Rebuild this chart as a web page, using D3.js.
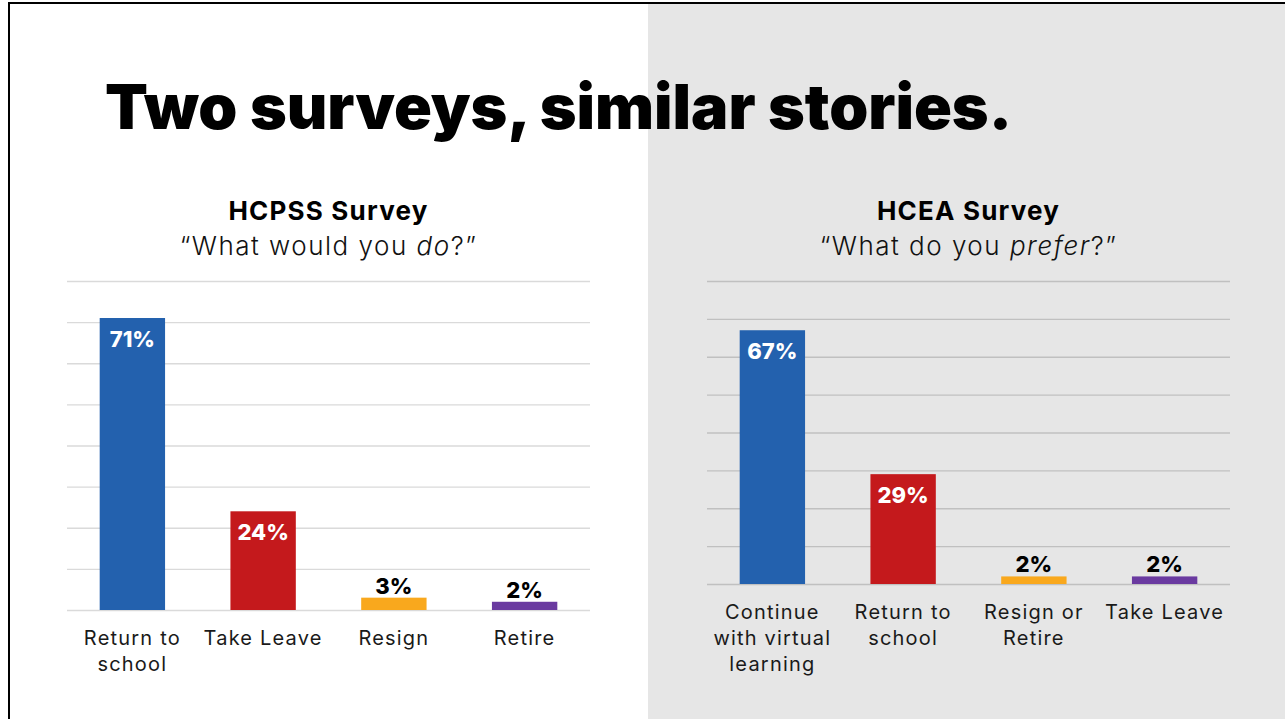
<!DOCTYPE html>
<html>
<head>
<meta charset="utf-8">
<script src="https://cdn.jsdelivr.net/npm/d3@7"></script>
<style>
  html, body { margin: 0; padding: 0; background: #fff; }
  svg { display: block; font-family: Inter, "Open Sans", sans-serif; }
</style>
</head>
<body>
<svg id="slide" width="1285" height="719"></svg>
<script>
// survey data
var hcpssCategories = ['Return to\nschool', 'Take Leave', 'Resign', 'Retire'];
var hcpssValues = [71, 24, 3, 2];
var hceaCategories = ['Continue\nwith virtual\nlearning', 'Return to\nschool', 'Resign or\nRetire', 'Take Leave'];
var hceaValues = [67, 29, 2, 2];
var barColors = ['#2361ae', '#c4191c', '#f9a81d', '#6a3aa0'];
var gridTicks = [0, 10, 20, 30, 40, 50, 60, 70, 80];

var svg = d3.select('#slide');

// right half background + slide frame
svg.append('rect')
  .attr('x', 648).attr('y', 4)
  .attr('width', 637).attr('height', 715)
  .attr('fill', '#e6e6e6');

svg.append('path')
  .attr('d', 'M9,719 V3 H1285')
  .attr('fill', 'none')
  .attr('stroke', '#000')
  .attr('stroke-width', 2);

var title = svg.append('text')
  .attr('x', 105)
  .attr('y', 129)
  .style('font-size', '62px')
  .style('font-weight', 900)
  .attr('fill', '#000')
  .text('Two surveys, similar stories.');
title.attr('textLength', 907).attr('lengthAdjust', 'spacingAndGlyphs');

function drawSurvey(opts) {
  var g = svg.append('g');
  var x = d3.scaleBand()
    .domain(opts.categories)
    .range([opts.left, opts.right])
    .paddingInner(0.5)
    .paddingOuter(0.25);
  var y = d3.scaleLinear()
    .domain([0, 80])
    .range([opts.bottom, 281]);

  var cx = (opts.left + opts.right) / 2;

  g.append('text')
    .attr('x', cx).attr('y', 220)
    .attr('text-anchor', 'middle')
    .style('font-size', '26px')
    .style('font-weight', 700)
    .style('letter-spacing', '1.2px')
    .attr('fill', '#000')
    .text(opts.name);

  var q = g.append('text')
    .attr('x', cx).attr('y', 255)
    .attr('text-anchor', 'middle')
    .style('font-size', '26px')
    .style('font-weight', 300)
    .style('letter-spacing', '1.5px')
    .attr('fill', '#111');
  q.append('tspan').text('\u201c' + opts.question[0]);
  q.append('tspan').style('font-style', 'italic').text(opts.question[1]);
  q.append('tspan').text(opts.question[2] + '\u201d');

  // gridlines
  var axis = d3.axisLeft(y)
    .tickValues(gridTicks)
    .tickSize(-(opts.right - opts.left))
    .tickFormat('');
  var ga = g.append('g')
    .attr('transform', 'translate(' + opts.left + ',0)')
    .call(axis);
  ga.select('.domain').remove();
  ga.selectAll('.tick line')
    .attr('stroke', opts.gridColor)
    .attr('stroke-width', 1.3);

  g.selectAll('rect.bar')
    .data(opts.values)
    .join('rect')
    .attr('class', 'bar')
    .attr('x', function(d, i) { return x(opts.categories[i]); })
    .attr('y', function(d) { return y(d); })
    .attr('width', x.bandwidth())
    .attr('height', function(d) { return y(0) - y(d); })
    .attr('fill', function(d, i) { return barColors[i]; });

  g.selectAll('text.val')
    .data(opts.values)
    .join('text')
    .attr('class', 'val')
    .attr('x', function(d, i) { return x(opts.categories[i]) + x.bandwidth() / 2; })
    .attr('y', function(d) { return d > 10 ? y(d) + 29 : Math.min(y(d) - 4, y(0) - 12); })
    .attr('text-anchor', 'middle')
    .style('font-size', '22px')
    .style('font-weight', 800)
    .attr('fill', function(d) { return d > 10 ? '#fff' : '#000'; })
    .text(function(d) { return d + '%'; });

  var labels = g.selectAll('text.cat')
    .data(opts.categories)
    .join('text')
    .attr('class', 'cat')
    .attr('x', function(d) { return x(d) + x.bandwidth() / 2; })
    .attr('y', opts.bottom + 35)
    .attr('text-anchor', 'middle')
    .style('font-size', '20px')
    .style('letter-spacing', '1.2px')
    .attr('fill', '#1a1a1a');
  labels.selectAll('tspan')
    .data(function(d) { return d.split('\n'); })
    .join('tspan')
    .attr('x', function() { return d3.select(this.parentNode).attr('x'); })
    .attr('dy', function(d, i) { return i ? 26 : 0; })
    .text(function(d) { return d; });
}

drawSurvey({
  name: 'HCPSS Survey',
  question: ['What would you ', 'do', '?'],
  categories: hcpssCategories,
  values: hcpssValues,
  left: 67, right: 590, bottom: 610,
  gridColor: '#dadada'
});

drawSurvey({
  name: 'HCEA Survey',
  question: ['What do you ', 'prefer', '?'],
  categories: hceaCategories,
  values: hceaValues,
  left: 707, right: 1230, bottom: 584,
  gridColor: '#c0c0c0'
});
</script>
</body>
</html>
